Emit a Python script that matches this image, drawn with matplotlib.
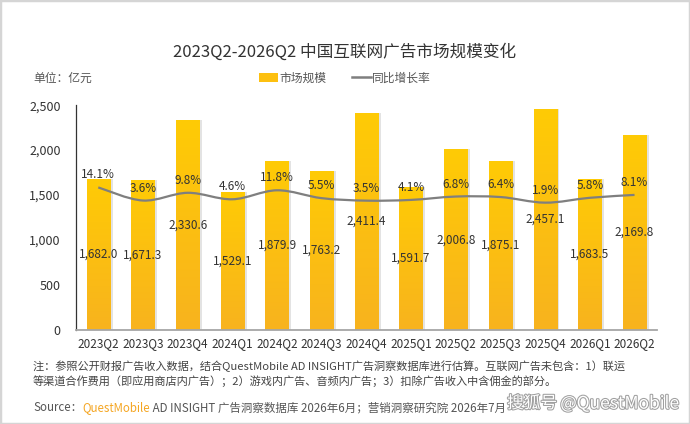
import numpy as np
import matplotlib
matplotlib.use("Agg")
import matplotlib.pyplot as plt
from matplotlib.patches import Rectangle, Patch, PathPatch
from matplotlib.lines import Line2D
from matplotlib.path import Path
from matplotlib.colors import LinearSegmentedColormap
import matplotlib.patheffects as pe

plt.rcParams['font.family'] = ['Noto Sans CJK SC', 'DejaVu Sans']

# ---------------- data ----------------
quarters = ["2023Q2", "2023Q3", "2023Q4", "2024Q1", "2024Q2", "2024Q3", "2024Q4",
            "2025Q1", "2025Q2", "2025Q3", "2025Q4", "2026Q1", "2026Q2"]
market_size = [1682.0, 1671.3, 2330.6, 1529.1, 1879.9, 1763.2, 2411.4,
               1591.7, 2006.8, 1875.1, 2457.1, 1683.5, 2169.8]
yoy_growth = [14.1, 3.6, 9.8, 4.6, 11.8, 5.5, 3.5, 4.1, 6.8, 6.4, 1.9, 5.8, 8.1]
yticks = [0, 500, 1000, 1500, 2000, 2500]

title = "2023Q2-2026Q2 中国互联网广告市场规模变化"
unit_text = "单位：亿元"
legend_labels = ["市场规模", "同比增长率"]
note_lines = ["注：参照公开财报广告收入数据，结合QuestMobile AD INSIGHT广告洞察数据库进行估算。互联网广告未包含：1）联运",
              "等渠道合作费用（即应用商店内广告）；2）游戏内广告、音频内广告；3）扣除广告收入中含佣金的部分。"]

# ---------------- figure ----------------
fig = plt.figure(figsize=(6.9, 4.24), dpi=100)
fig.patch.set_facecolor("white")
ax = fig.add_axes([0.110, 0.222, 0.842, 0.530])

x = np.arange(len(quarters))
bar_w = 0.52
cmap = LinearSegmentedColormap.from_list("gold", ["#F8B31E", "#FFCB05"])
grad = np.linspace(0, 1, 256).reshape(-1, 1)

# shadow bars
ax.bar(x + 0.06, market_size, width=bar_w, color="#E3E3E3", zorder=1)
bars = ax.bar(x, market_size, width=bar_w, color="#FDC010", zorder=2)
for b in bars:
    x0, w, h = b.get_x(), b.get_width(), b.get_height()
    im = ax.imshow(grad, extent=[x0, x0 + w, 0, h], origin="lower",
                   aspect="auto", cmap=cmap, zorder=2.5)
    im.set_clip_path(b)

ax.set_xlim(-0.5, len(quarters) - 0.5)
ax.set_ylim(0, 2500)
ax.set_yticks(yticks)
ax.set_yticklabels([f"{v:,}" for v in yticks])
ax.set_xticks(x)
ax.set_xticklabels(quarters)
ax.tick_params(axis="y", length=0, pad=11, labelsize=9, labelcolor="#333333")
ax.tick_params(axis="x", length=0, pad=5, labelsize=8.5, labelcolor="#333333")
for s in ["top", "right"]:
    ax.spines[s].set_visible(False)
ax.spines["left"].set_color("#333333")
ax.spines["left"].set_linewidth(0.9)
ax.spines["bottom"].set_color("#A6A6A6")
ax.spines["bottom"].set_linewidth(1.3)

for xi, v in zip(x, market_size):
    ax.text(xi, v / 2, f"{v:,.1f}", ha="center", va="center",
            fontsize=8.5, color="#333333", zorder=5)

# growth line on hidden secondary axis
ax2 = ax.twinx()
ax2.set_ylim(-100, 80)
ax2.set_axis_off()
pts = np.column_stack([x, yoy_growth]).astype(float)
verts = [tuple(pts[0])]
codes = [Path.MOVETO]
n = len(pts)
for i in range(n - 1):
    p0 = pts[i - 1] if i > 0 else pts[i]
    p1 = pts[i]
    p2 = pts[i + 1]
    p3 = pts[i + 2] if i + 2 < n else pts[i + 1]
    c1 = p1 + (p2 - p0) / 6.0
    c2 = p2 - (p3 - p1) / 6.0
    verts += [tuple(c1), tuple(c2), tuple(p2)]
    codes += [Path.CURVE4] * 3
ax2.add_patch(PathPatch(Path(verts, codes), facecolor="none",
                        edgecolor="#7F7F7F", lw=1.6, zorder=4))
for xi, g in zip(x, yoy_growth):
    ax2.annotate(f"{g}%", (xi, g), xytext=(0, 9), textcoords="offset points",
                 ha="center", va="center", fontsize=8.5, color="#333333")

# ---------------- texts ----------------
fig.text(0.5, 0.878, title, ha="center", va="center", fontsize=12, color="#333333")
fig.text(0.048, 0.815, unit_text, ha="left", va="center", fontsize=8.5, color="#555555")

handles = [Patch(facecolor="#FDC010", edgecolor="none"),
           Line2D([0], [0], color="#7F7F7F", lw=1.8)]
fig.legend(handles, legend_labels, loc="center", bbox_to_anchor=(0.5, 0.816),
           ncol=2, frameon=False, fontsize=8.5, handlelength=1.6, handleheight=0.9,
           handletextpad=0.1, columnspacing=2.2, labelcolor="#555555")

fig.text(0.048, 0.137, note_lines[0], ha="left", va="center", fontsize=8.05, color="#444444")
fig.text(0.048, 0.101, note_lines[1], ha="left", va="center", fontsize=8.05, color="#444444")

t1 = fig.text(0.048, 0.038, "Source：", ha="left", va="center", fontsize=8.3, color="#555555")
t2 = ax.annotate("QuestMobile", xy=(1, 0.5), xycoords=t1, ha="left", va="center",
                 fontsize=8.3, color="#F5A623", annotation_clip=False)
t3 = ax.annotate(" AD INSIGHT 广告洞察数据库 2026年6月；营销洞察研究院 2026年7月", xy=(1, 0.5),
                 xycoords=t2, ha="left", va="center", fontsize=8.3, color="#555555",
                 annotation_clip=False)

wm_fx = [pe.withStroke(linewidth=1.5, foreground="#A0A0A0")]
fig.text(0.735, 0.048, "搜狐号", ha="left", va="center", fontsize=12, color="white",
         path_effects=wm_fx)
fig.text(0.812, 0.048, "@QuestMobile", ha="left", va="center", fontsize=12.5,
         color="white", path_effects=wm_fx)

fig.patches.append(Rectangle((0, 0), 1, 1, transform=fig.transFigure, fill=False,
                             edgecolor="#D5D5D5", lw=2.5))

fig.savefig("out.png", dpi=100)
